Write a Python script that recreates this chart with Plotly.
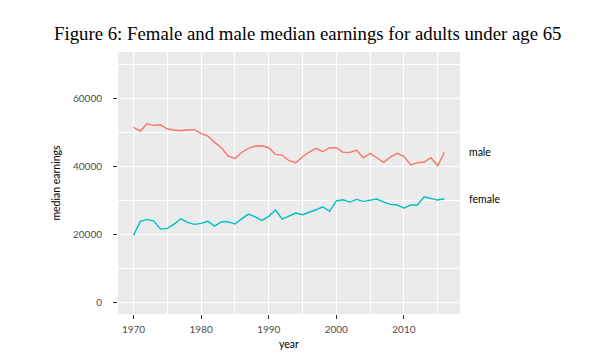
import plotly.graph_objects as go

years = list(range(1970, 2017))
male = [51470, 50380, 52530, 52050, 52240, 50970, 50670, 50480, 50760, 50760,
        49590, 48900, 47040, 45460, 43010, 42330, 44050, 45280, 45960, 46050,
        45460, 43510, 43300, 41630, 41040, 42810, 44190, 45280, 44280, 45460,
        45460, 44100, 44100, 44730, 42510, 43800, 42510, 41160, 42720, 43800,
        42920, 40360, 41040, 41240, 42510, 40150, 44100]
female = [19740, 23770, 24360, 23860, 21500, 21710, 22980, 24540, 23480, 22890,
          23180, 23770, 22390, 23660, 23660, 22980, 24500, 25920, 25130, 24070,
          25250, 27100, 24450, 25420, 26220, 25720, 26420, 27190, 28080, 26720,
          29840, 30140, 29460, 30250, 29660, 30050, 30340, 29460, 28780, 28580,
          27690, 28580, 28580, 31020, 30550, 30050, 30430]
series_names = ["male", "female"]
series_colors = ["#F8766D", "#00BFC4"]
x_ticks = [1970, 1980, 1990, 2000, 2010]
y_ticks = [0, 20000, 40000, 60000]
y_tick_labels = ["0", "20000", "40000", "60000"]
title_text = "Figure 6: Female and male median earnings for adults under age 65"

fig = go.Figure()
for name, vals, col in zip(series_names, [male, female], series_colors):
    fig.add_trace(go.Scatter(x=years, y=vals, mode="lines", name=name,
                             line=dict(color=col, width=1.4), showlegend=False))
    fig.add_annotation(x=years[-1], y=vals[-1], text=name, showarrow=False,
                       xanchor="left", yanchor="middle", xshift=23,
                       font=dict(family="Lato", size=10.5, color="#000000"))

tick_font = dict(family="Lato", size=10, color="#4D4D4D")
fig.update_layout(
    width=591, height=364,
    margin=dict(l=118, r=131, t=52, b=50),
    paper_bgcolor="white", plot_bgcolor="#EBEBEB",
    title=dict(text=title_text, x=54/591, xanchor="left", xref="container",
               y=1 - 33/364, yanchor="middle", yref="container",
               pad=dict(l=0, r=0, t=0, b=0),
               font=dict(family="Liberation Serif", size=18.8, color="#000000")),
    xaxis=dict(range=[1967.7, 2018.3], tickvals=x_ticks, ticks="outside",
               ticklen=4, tickwidth=1.1, tickcolor="#333333", tickfont=tick_font,
               ticklabelstandoff=2,
               showgrid=True, gridcolor="white", gridwidth=1.2, zeroline=False,
               showline=False, automargin=False,
               minor=dict(dtick=5, tick0=1965, showgrid=True, gridcolor="white",
                          gridwidth=0.6, ticks=""),
               title=dict(text="year", font=dict(family="Lato", size=10.5, color="#000000"),
                          standoff=6)),
    yaxis=dict(range=[-3500, 73650], tickvals=y_ticks, ticktext=y_tick_labels,
               ticks="outside", ticklabelstandoff=9,
               ticklen=4, tickwidth=1.1, tickcolor="#333333", tickfont=tick_font,
               showgrid=True, gridcolor="white", gridwidth=1.2, zeroline=False,
               showline=False, automargin=False,
               minor=dict(dtick=10000, tick0=0, showgrid=True, gridcolor="white",
                          gridwidth=0.6, ticks=""),
               title=dict(text="median earnings", font=dict(family="Lato", size=10.5, color="#000000"),
                          standoff=10)),
)
fig.write_html("out.html", config={"displayModeBar": False},
               post_script="document.body.style.margin='0';")
